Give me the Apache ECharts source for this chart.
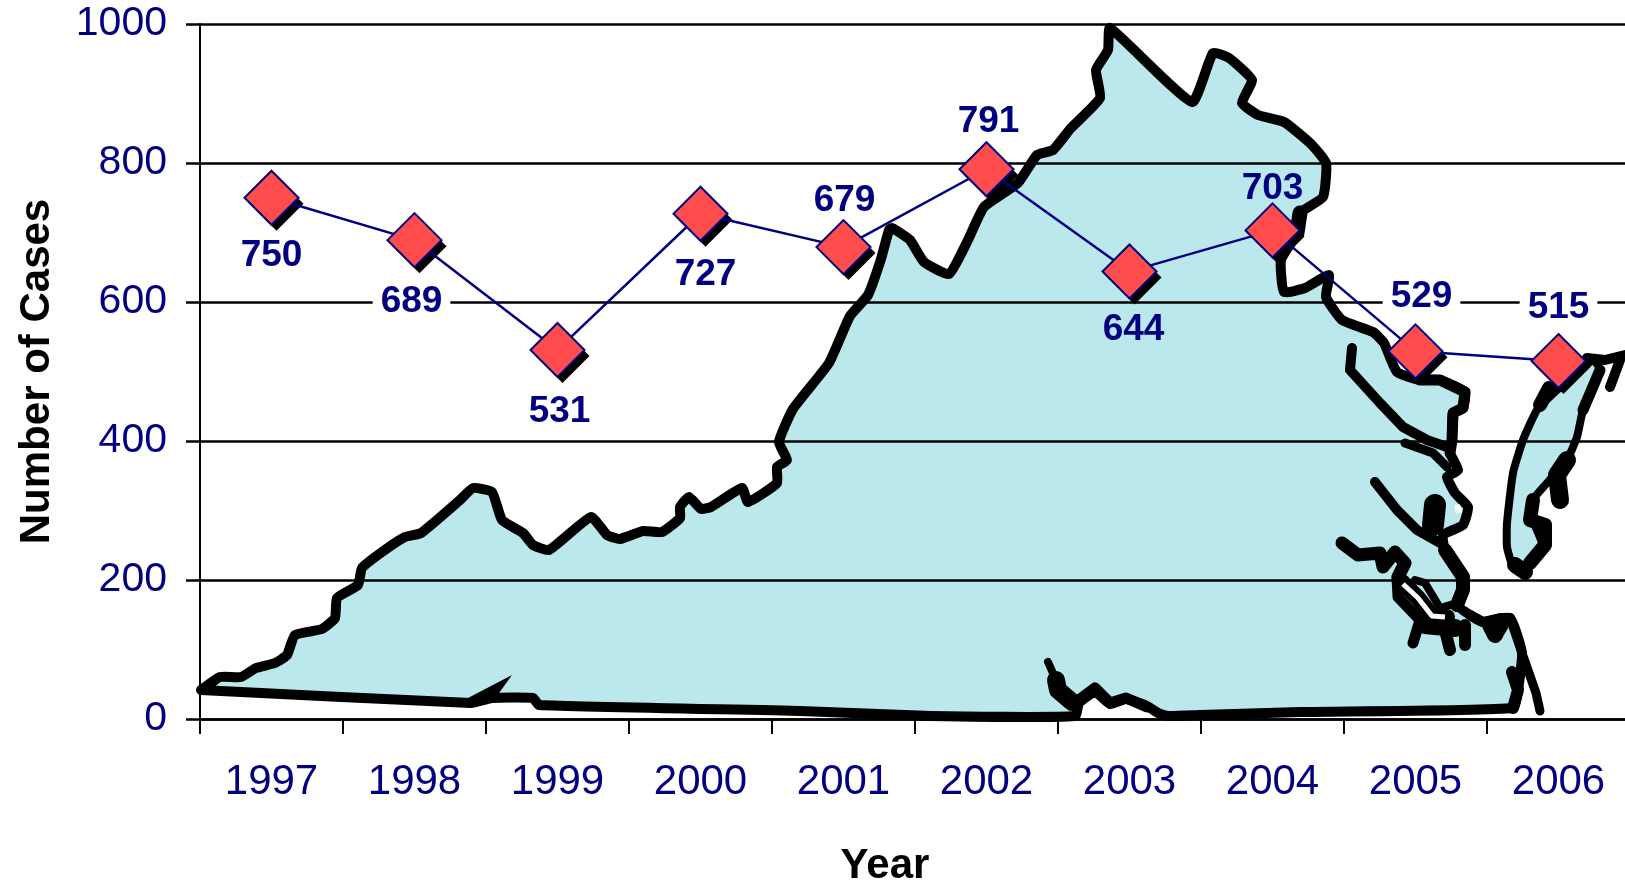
<!DOCTYPE html>
<html>
<head>
<meta charset="utf-8">
<title>Number of Cases by Year</title>
<script src="https://cdn.jsdelivr.net/npm/echarts@6/dist/echarts.min.js"></script>
<style>
  html, body { margin: 0; padding: 0; background: #fff; }
  #chart { width: 1625px; height: 880px; }
</style>
</head>
<body>
<div id="chart"></div>
<script>
var years = ['1997', '1998', '1999', '2000', '2001', '2002', '2003', '2004', '2005', '2006'];
var cases = [750, 689, 531, 727, 679, 791, 644, 703, 529, 515];

// where each value label sits relative to its marker
var labelOffsets = [[0, 58], [-3, 62], [2, 62], [5, 61], [1, -46], [2, -47], [4, 58], [0, -42], [6, -55], [0, -53]];
// these labels knock out the gridline behind them
var knockout = ['1998', '2005', '2006'];

// backdrop picture: outline of the state, traced in page pixels
var stateOutline = [
  [201,690],[220,677],[241,677],[256,668],[275,663],[287,655],[295,635],[322,629],[335,618],[337,598],
  [358,585],[362,568],[382,552],[405,537],[421,533],[460,500],[473,488],[492,492],[502,520],[523,533],
  [533,545],[549,550],[591,517],[607,535],[620,539],[643,531],[662,532],[680,518],[680,507],[689,497],
  [701,509],[711,507],[742,488],[748,502],[777,483],[777,467],[787,460],[779,442],[793,409],[829,363],
  [850,316],[868,295],[881,259],[889,230],[892,228],[910,240],[924,262],[949,274],[968,240],[984,207],
  [1018,183],[1037,155],[1053,150],[1071,128],[1100,98],[1096,70],[1108,50],[1110,28],[1192,102],[1213,53],
  [1229,58],[1252,80],[1242,103],[1258,115],[1284,122],[1310,143],[1326,163],[1323,197],[1300,213],[1297,233],
  [1281,260],[1284,292],[1305,288],[1329,275],[1326,297],[1342,320],[1373,332],[1384,343],[1397,372],[1420,380],
  [1440,380],[1465,392],[1463,408],[1453,413],[1452,440],[1450,453],[1458,470],[1447,477],[1455,493],[1468,507],
  [1463,525],[1443,535],[1445,550],[1463,577],[1463,590],[1457,605],[1470,615],[1483,622],[1510,618],[1522,653],
  [1518,690],[1513,708],[1300,712],[1200,715],[1168,716],[1158,713],[1147,706],[1126,699],[1110,704],[1095,692],
  [1079,703],[1075,716],[931,716],[800,711],[539,705],[533,698],[492,698],[471,703],[201,690]
];
var easternShore = [
  [1593,360],[1557,390],[1537,410],[1523,440],[1513,473],[1507,523],[1507,547],[1513,567],[1523,573],[1530,563],
  [1543,547],[1533,520],[1533,500],[1547,483],[1567,460],[1577,437],[1583,410],[1600,370]
];
// rivers and inlets: points, then line width
var coastLines = [
  [[[1352,348],[1350,370],[1380,403],[1403,427],[1427,440],[1447,447]], 10],
  [[[1405,443],[1433,453],[1447,467]], 9],
  [[[1375,482],[1397,510],[1417,530],[1440,543]], 10],
  [[[1342,543],[1358,555],[1380,553],[1383,567],[1395,552],[1405,563],[1398,577]], 13],
  [[[1397,577],[1398,597],[1420,620],[1413,643]], 11],
  [[[1415,580],[1425,583],[1440,608],[1457,603]], 8],
  [[[1402,582],[1418,598],[1432,616],[1447,617]], 16],
  [[[1435,505],[1433,525]], 22],
  [[[1420,380],[1440,380],[1465,392],[1463,408],[1453,413],[1452,440],[1450,453]], 11],
  [[[1445,550],[1463,577],[1463,590],[1457,605]], 14],
  [[[1425,625],[1455,628]], 18],
  [[[1445,630],[1450,650]], 12],
  [[[1465,625],[1465,645]], 12],
  [[[1470,615],[1483,622],[1500,618],[1510,618]], 10],
  [[[1490,625],[1495,635]], 16],
  [[[1503,625],[1497,635]], 12],
  [[[1510,618],[1522,653],[1536,693],[1540,711]], 9],
  [[[1512,672],[1518,690],[1513,708]], 12],
  [[[1048,662],[1056,680]], 8],
  [[[1056,680],[1058,690],[1072,702]], 18],
  [[[1079,700],[1095,688],[1110,703],[1126,698],[1147,707]], 11],
  [[[1567,460],[1557,475],[1560,500]], 18],
  [[[1533,500],[1530,520],[1545,525],[1545,545],[1530,563]], 14],
  [[[1515,565],[1525,572]], 16],
  [[[1587,358],[1605,360],[1625,355]], 10],
  [[[1620,360],[1610,387]], 10],
  [[[1600,370],[1583,410]], 11],
  [[[1549,388],[1540,405]], 14],
  [[[1300,213],[1297,233]], 15]
];
var whiteMarks = [
  [[[1403,584],[1418,598],[1432,616],[1445,617]], 5],
  [[[1457,505],[1459,513]], 6]
];
var westSpike = [[468,698],[512,675],[494,700],[468,708]];

var NAVY = '#000080';
var FONT = '"Liberation Sans", Arial, sans-serif';

var mapGraphics = [
  { type: 'polygon', shape: { points: stateOutline, smooth: 0.15 }, style: { fill: '#bbe8ec', stroke: '#000', lineWidth: 10, lineJoin: 'round' }, z: -10 },
  { type: 'polygon', shape: { points: easternShore, smooth: 0.15 }, style: { fill: '#bbe8ec', stroke: '#000', lineWidth: 8, lineJoin: 'round' }, z: -10 },
  { type: 'polygon', shape: { points: westSpike }, style: { fill: '#000' }, z: -9 }
];
coastLines.forEach(function (c) {
  mapGraphics.push({
    type: 'polyline',
    shape: { points: c[0] },
    style: { fill: null, stroke: '#000', lineWidth: c[1], lineJoin: 'round', lineCap: 'round' },
    z: -9
  });
});
whiteMarks.forEach(function (c) {
  mapGraphics.push({
    type: 'polyline',
    shape: { points: c[0] },
    style: { fill: null, stroke: '#fff', lineWidth: c[1], lineJoin: 'round' },
    z: -8
  });
});

var points = cases.map(function (v, i) {
  var hole = knockout.indexOf(years[i]) >= 0;
  return {
    value: v,
    label: {
      offset: labelOffsets[i],
      backgroundColor: hole ? '#fff' : 'transparent',
      padding: hole ? [2, 8, 2, 8] : 0
    }
  };
});

var myChart = echarts.init(document.getElementById('chart'), null, { renderer: 'canvas' });
var option = {
  animation: false,
  backgroundColor: '#fff',
  graphic: { elements: mapGraphics },
  grid: { left: 200, top: 24, width: 1430, height: 695, outerBoundsMode: 'none' },
  xAxis: {
    type: 'category',
    data: years,
    name: 'Year',
    nameLocation: 'middle',
    nameGap: 126,
    nameTextStyle: { color: '#000', fontFamily: FONT, fontWeight: 'bold', fontSize: 42, padding: [0, 60, 0, 0] },
    axisLine: { lineStyle: { color: '#000', width: 2.5 } },
    axisTick: { show: true, alignWithLabel: false, length: 15, lineStyle: { color: '#000', width: 2 } },
    axisLabel: { color: NAVY, fontFamily: FONT, fontSize: 42, margin: 42, interval: 0 },
    splitLine: { show: false }
  },
  yAxis: {
    type: 'value',
    min: 0,
    max: 1000,
    interval: 200,
    name: 'Number of Cases',
    nameLocation: 'middle',
    nameGap: 142,
    nameTextStyle: { color: '#000', fontFamily: FONT, fontWeight: 'bold', fontSize: 42 },
    axisLine: { show: true, lineStyle: { color: '#000', width: 2 } },
    axisTick: { show: true, length: 14, lineStyle: { color: '#000', width: 2.5 } },
    axisLabel: {
      color: NAVY, fontFamily: FONT, fontSize: 41, margin: 33, padding: [4, 0, 0, 0],
      formatter: function (v) { return String(v); }
    },
    splitLine: { show: true, lineStyle: { color: '#000', width: 2.5 } }
  },
  series: [{
    // hard drop shadow under the markers
    type: 'line',
    data: cases,
    symbol: 'diamond',
    symbolSize: 54,
    symbolOffset: [5, 6],
    showAllSymbol: true,
    z: 4,
    silent: true,
    lineStyle: { opacity: 0 },
    itemStyle: { color: '#000', borderWidth: 0 }
  }, {
    type: 'line',
    data: points,
    symbol: 'diamond',
    symbolSize: 54,
    showAllSymbol: true,
    z: 5,
    lineStyle: { color: NAVY, width: 2.5 },
    itemStyle: { color: '#ff4d4d', borderColor: NAVY, borderWidth: 2, opacity: 1 },
    label: {
      show: true,
      position: 'inside',
      color: NAVY,
      fontFamily: FONT,
      fontWeight: 'bold',
      fontSize: 37
    }
  }]
};
option && myChart.setOption(option);
</script>
</body>
</html>
